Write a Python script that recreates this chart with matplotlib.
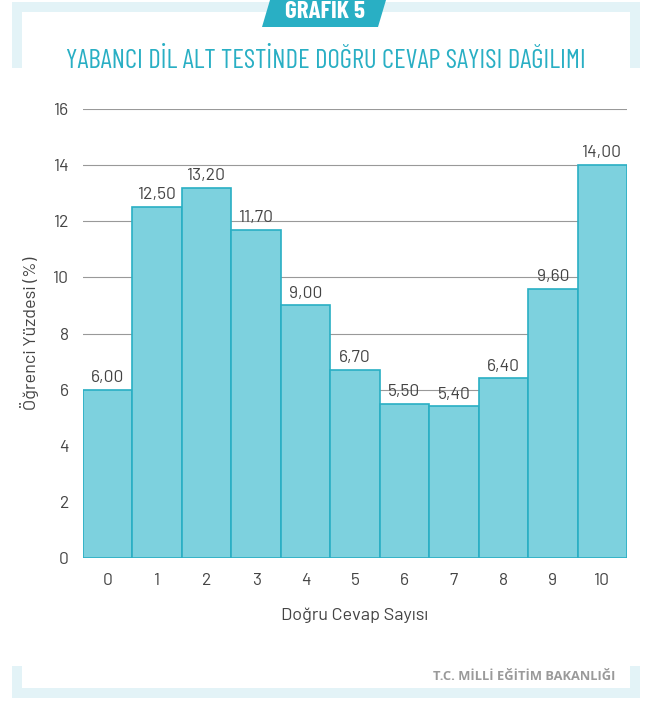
import matplotlib.pyplot as plt
from matplotlib.patches import Polygon, Rectangle

# Grafik verileri
dogru_sayisi = ['0', '1', '2', '3', '4', '5', '6', '7', '8', '9', '10']
yuzde = [6.00, 12.50, 13.20, 11.70, 9.00, 6.70, 5.50, 5.40, 6.40, 9.60, 14.00]
y_ticks = [0, 2, 4, 6, 8, 10, 12, 14, 16]

turkuaz = '#29afc4'
acik = '#7dd1de'
cerceve = '#e3f3f7'
yazi = '#444444'

DAR = ['Barlow Condensed', 'DejaVu Sans']
NORMAL = ['Barlow', 'Roboto', 'DejaVu Sans']
plt.rcParams['font.family'] = NORMAL

fig = plt.figure(figsize=(6.53, 7.09), dpi=100)
W, H = 653, 709

def px(x, y):
    return x / W, 1 - y / H

# Açık mavi çerçeve
for (x0, y0, x1, y1) in [(12, 2, 640, 12), (12, 2, 22, 68), (630, 2, 640, 68),
                         (12, 688, 640, 698), (12, 666, 22, 698), (630, 666, 640, 698)]:
    fig.add_artist(Rectangle(px(x0, y1), (x1 - x0) / W, (y1 - y0) / H,
                             transform=fig.transFigure, color=cerceve, lw=0))

# GRAFİK 5 etiketi
rozet = [px(270, 0), px(386, 0), px(378, 27), px(262, 27)]
fig.add_artist(Polygon(rozet, closed=True, transform=fig.transFigure, color=turkuaz, lw=0))
fig.text(*px(325, 12), 'GRAFİK 5', color='white', fontsize=18, fontweight='bold',
         family=DAR, fontstretch='condensed', ha='center', va='center')

fig.text(*px(326, 60), 'YABANCI DİL ALT TESTİNDE DOĞRU CEVAP SAYISI DAĞILIMI',
         color=turkuaz, fontsize=19.4, family=DAR, fontstretch='condensed',
         fontweight='normal', ha='center', va='center')

fig.text(*px(615, 676), 'T.C. MİLLİ EĞİTİM BAKANLIĞI', color='#9a9a9a', fontsize=9.3,
         fontweight='bold', family=['Open Sans', 'DejaVu Sans'], ha='right', va='center')

ax = fig.add_axes([83 / W, 151 / H, 544 / W, 449 / H])
x = range(len(yuzde))
ax.bar(x, yuzde, width=1.0, color=acik, edgecolor=turkuaz, linewidth=1.2, zorder=3)
for i, v in zip(x, yuzde):
    ax.text(i, v + 0.17, f'{v:.2f}'.replace('.', ','), ha='center', va='bottom',
            fontsize=12.5, color=yazi)

ax.set_xlim(-0.5, len(yuzde) - 0.5)
ax.set_ylim(0, 16)
ax.set_yticks(y_ticks)
ax.set_xticks(list(x))
ax.set_xticklabels(dogru_sayisi)
ax.grid(axis='y', color='#999999', linewidth=0.8, zorder=0)
for s in ax.spines.values():
    s.set_visible(False)
ax.tick_params(length=0, labelsize=12.5, colors=yazi, pad=11)
ax.tick_params(axis='y', pad=10)
ax.set_xlabel('Doğru Cevap Sayısı', fontsize=13, color=yazi, labelpad=14)
ax.set_ylabel('Öğrenci Yüzdesi (%)', fontsize=13, color=yazi, labelpad=10)

fig.savefig('out.png', dpi=100)
